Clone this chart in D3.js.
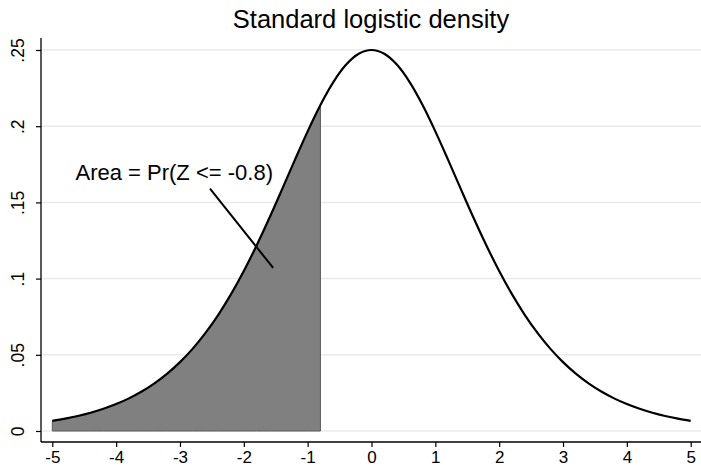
<!DOCTYPE html>
<html>
<head>
<meta charset="utf-8">
<script src="https://cdn.jsdelivr.net/npm/d3@7"></script>
<style>
  html, body { margin: 0; padding: 0; background: #fff; }
  svg { display: block; font-family: "Liberation Sans", Arial, Helvetica, sans-serif; }
</style>
</head>
<body>
<svg id="chart" width="701" height="468"></svg>
<script>
// ---- data ----
const xs = [-5,-4.8,-4.6,-4.4,-4.2,-4,-3.8,-3.6,-3.4,-3.2,-3,-2.8,-2.6,-2.4,-2.2,-2,-1.8,-1.6,-1.4,-1.2,-1,-0.8,-0.6,-0.4,-0.2,0,
            0.2,0.4,0.6,0.8,1,1.2,1.4,1.6,1.8,2,2.2,2.4,2.6,2.8,3,3.2,3.4,3.6,3.8,4,4.2,4.4,4.6,4.8,5];
const density = [0.00665,0.00809,0.00985,0.01198,0.01456,0.01766,0.02140,0.02588,0.03126,0.03764,0.04518,0.05404,0.06436,0.07625,0.08980,0.10499,0.12173,0.13976,0.15869,0.17790,0.19661,0.21391,0.22878,0.24026,0.24752,0.25,
                 0.24752,0.24026,0.22878,0.21391,0.19661,0.17790,0.15869,0.13976,0.12173,0.10499,0.08980,0.07625,0.06436,0.05404,0.04518,0.03764,0.03126,0.02588,0.02140,0.01766,0.01456,0.01198,0.00985,0.00809,0.00665];
const cutoff = -0.8;
const xTicks = [-5,-4,-3,-2,-1,0,1,2,3,4,5];
const yTicks = [0,0.05,0.1,0.15,0.2,0.25];
const yTickLabels = ["0",".05",".1",".15",".2",".25"];
const titleText = "Standard logistic density";
const noteText = "Area = Pr(Z <= -0.8)";
const notePos = [-3.09, 0.1645];
const pointerLine = [[-2.53, 0.159], [-1.54, 0.107]];

// ---- layout ----
const svg = d3.select("#chart");
const plot = {left: 41, right: 701, top: 38, bottom: 442};

const x = d3.scaleLinear().domain([-5, 5]).range([52.3, 690.7]);
const y = d3.scaleLinear().domain([0, 0.25]).range([431, 50]);

const pts = xs.map((v, i) => ({x: v, y: density[i]}));

// gridlines
svg.append("g").selectAll("line").data(yTicks).join("line")
  .attr("x1", plot.left).attr("x2", plot.right)
  .attr("y1", d => y(d)).attr("y2", d => y(d))
  .attr("stroke", "#eaeaea").attr("stroke-width", 1.5);

// shaded area
const areaPts = pts.filter(d => d.x <= cutoff + 1e-9);
svg.append("path")
  .datum(areaPts)
  .attr("d", d3.area().x(d => x(d.x)).y0(y(0)).y1(d => y(d.y)).curve(d3.curveMonotoneX))
  .attr("fill", "#808080").attr("stroke", "#5a5a5a").attr("stroke-width", 1);

// density curve
svg.append("path")
  .datum(pts)
  .attr("d", d3.line().x(d => x(d.x)).y(d => y(d.y)).curve(d3.curveMonotoneX))
  .attr("fill", "none").attr("stroke", "#000").attr("stroke-width", 2.2);

// axes
const xAxis = d3.axisBottom(x).tickValues(xTicks).tickSize(5).tickPadding(4).tickFormat(d3.format("d"));
const gx = svg.append("g").attr("transform", `translate(0,${plot.bottom})`).call(xAxis);
gx.select(".domain").remove();
gx.append("line").attr("x1", plot.left).attr("x2", plot.right).attr("y1", 0).attr("y2", 0)
  .attr("stroke", "#000").attr("stroke-width", 1.3);
gx.selectAll(".tick line").attr("stroke", "#000").attr("stroke-width", 1.2);
gx.selectAll(".tick text").attr("font-size", 17).attr("fill", "#000")
  .attr("font-family", "'Liberation Sans', Arial, sans-serif")
  .text(d => d < 0 ? "-" + Math.abs(d) : String(d));

const yAxis = d3.axisLeft(y).tickValues(yTicks).tickSize(5).tickFormat((d, i) => yTickLabels[i]);
const gy = svg.append("g").attr("transform", `translate(${plot.left},0)`).call(yAxis);
gy.select(".domain").remove();
gy.append("line").attr("x1", 0).attr("x2", 0).attr("y1", plot.top).attr("y2", plot.bottom)
  .attr("stroke", "#000").attr("stroke-width", 1.3);
gy.selectAll(".tick line").attr("stroke", "#000").attr("stroke-width", 1.2);
gy.selectAll(".tick text")
  .attr("font-size", 17.5).attr("fill", "#000")
  .attr("font-family", "'Liberation Sans', Arial, sans-serif")
  .attr("x", null).attr("dy", null)
  .attr("text-anchor", "middle")
  .attr("transform", "translate(-17,0) rotate(-90)");

// pointer line + note
svg.append("line")
  .attr("x1", x(pointerLine[0][0])).attr("y1", y(pointerLine[0][1]))
  .attr("x2", x(pointerLine[1][0])).attr("y2", y(pointerLine[1][1]))
  .attr("stroke", "#000").attr("stroke-width", 2);
svg.append("text")
  .attr("x", x(notePos[0])).attr("y", y(notePos[1]))
  .attr("text-anchor", "middle").attr("font-size", 22).attr("fill", "#000")
  .text(noteText);

// title
svg.append("text")
  .attr("x", 371).attr("y", 28)
  .attr("text-anchor", "middle").attr("font-size", 25.5).attr("fill", "#000")
  .text(titleText);
</script>
</body>
</html>
